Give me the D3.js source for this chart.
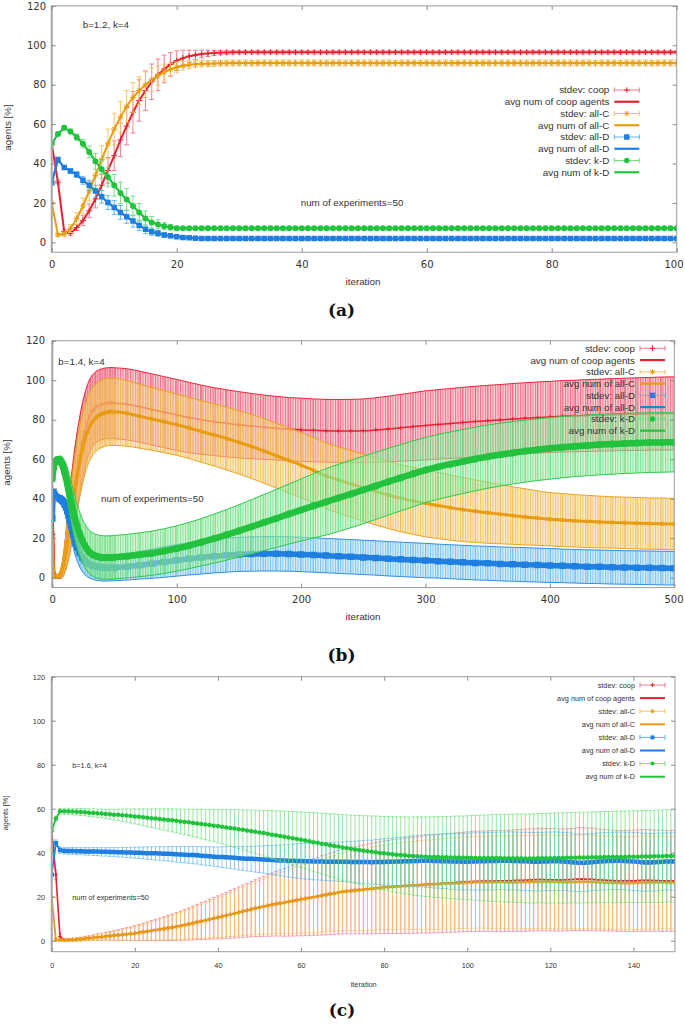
<!DOCTYPE html>
<html><head><meta charset="utf-8">
<script src="https://cdn.jsdelivr.net/npm/d3@7"></script>
<style>body{margin:0;background:#fff}svg{display:block}</style>
</head><body>
<svg id="chart" width="685" height="1027"></svg>
<script>
// ---------------- DATA ----------------
// Panel (a): b=1.2, k=4, iterations 0..100
const aIter = d3.range(0, 101);
const aCoop = [50,30.5,5.5,4.6,7.5,11,16,22,29,36.5,44,52,59,66,72,77,81.5,85,88,90.3,92.2,93.5,94.5,95.1,95.6,95.9,96.1,96.3,96.4,
 96.5,96.5,96.5,96.5,96.5,96.5,96.5,96.5,96.5,96.5,96.5,96.5,
 96.5,96.5,96.5,96.5,96.5,96.5,96.5,96.5,96.5,96.5,96.5,96.5,
 96.5,96.5,96.5,96.5,96.5,96.5,96.5,96.5,96.5,96.5,96.5,96.5,
 96.5,96.5,96.5,96.5,96.5,96.5,96.5,96.5,96.5,96.5,96.5,96.5,
 96.5,96.5,96.5,96.5,96.5,96.5,96.5,96.5,96.5,96.5,96.5,96.5,
 96.5,96.5,96.5,96.5,96.5,96.5,96.5,96.5,96.5,96.5,96.5,96.5];
const aCoopSd = [0,0.8,1,1,1.5,2.5,3.5,4.5,5.5,6.5,7.5,8.5,9.5,10.5,10.5,10,9,8,7,6,5,4,3,2.4,2,1.6,1.3,1.1,1,
 0.9,0.9,0.9,0.9,0.9,0.9,0.9,0.9,0.9,0.9,0.9,0.9,
 0.9,0.9,0.9,0.9,0.9,0.9,0.9,0.9,0.9,0.9,0.9,0.9,
 0.9,0.9,0.9,0.9,0.9,0.9,0.9,0.9,0.9,0.9,0.9,0.9,
 0.9,0.9,0.9,0.9,0.9,0.9,0.9,0.9,0.9,0.9,0.9,0.9,
 0.9,0.9,0.9,0.9,0.9,0.9,0.9,0.9,0.9,0.9,0.9,0.9,
 0.9,0.9,0.9,0.9,0.9,0.9,0.9,0.9,0.9,0.9,0.9,0.9];
const aAllC = [20,3.8,4.2,7,12,18.5,26,34,42,50,57.5,63.5,69,73.5,77,80,82.5,84.6,86.4,87.8,88.9,89.6,90.1,90.4,90.6,90.7,90.8,90.9,90.9,
 91,91,91,91,91,91,91,91,91,91,91,91,
 91,91,91,91,91,91,91,91,91,91,91,91,
 91,91,91,91,91,91,91,91,91,91,91,91,
 91,91,91,91,91,91,91,91,91,91,91,91,
 91,91,91,91,91,91,91,91,91,91,91,91,
 91,91,91,91,91,91,91,91,91,91,91,91];
const aAllCSd = [0,0.8,1,2,3,4,5,6,7,7.5,8,8,8,7.5,7,6.5,6,5,4,3.2,2.6,2.2,1.9,1.7,1.6,1.5,1.5,1.5,1.5,
 1.5,1.5,1.5,1.5,1.5,1.5,1.5,1.5,1.5,1.5,1.5,1.5,
 1.5,1.5,1.5,1.5,1.5,1.5,1.5,1.5,1.5,1.5,1.5,1.5,
 1.5,1.5,1.5,1.5,1.5,1.5,1.5,1.5,1.5,1.5,1.5,1.5,
 1.5,1.5,1.5,1.5,1.5,1.5,1.5,1.5,1.5,1.5,1.5,1.5,
 1.5,1.5,1.5,1.5,1.5,1.5,1.5,1.5,1.5,1.5,1.5,1.5,
 1.5,1.5,1.5,1.5,1.5,1.5,1.5,1.5,1.5,1.5,1.5,1.5];
const aAllD = [30.2,42,38,36.2,34.4,31.5,29,26,23.1,20.2,17.7,15.2,13,10.8,8.6,6.6,5.4,4.6,3.7,3.3,2.8,2.5,2.3,2.1,2,1.9,1.9,1.9,1.9,
 1.9,1.9,1.9,1.9,1.9,1.9,1.9,1.9,1.9,1.9,1.9,1.9,
 1.9,1.9,1.9,1.9,1.9,1.9,1.9,1.9,1.9,1.9,1.9,1.9,
 1.9,1.9,1.9,1.9,1.9,1.9,1.9,1.9,1.9,1.9,1.9,1.9,
 1.9,1.9,1.9,1.9,1.9,1.9,1.9,1.9,1.9,1.9,1.9,1.9,
 1.9,1.9,1.9,1.9,1.9,1.9,1.9,1.9,1.9,1.9,1.9,1.9,
 1.9,1.9,1.9,1.9,1.9,1.9,1.9,1.9,1.9,1.9,1.9,1.9];
const aAllDSd = [0,0.8,1,1.2,1.5,2,2.5,3,3.2,3.5,3.5,3.5,3.3,3,2.6,2.2,1.8,1.5,1.2,1,0.9,0.8,0.8,0.8,0.8,0.8,0.8,0.8,0.8,
 0.8,0.8,0.8,0.8,0.8,0.8,0.8,0.8,0.8,0.8,0.8,0.8,
 0.8,0.8,0.8,0.8,0.8,0.8,0.8,0.8,0.8,0.8,0.8,0.8,
 0.8,0.8,0.8,0.8,0.8,0.8,0.8,0.8,0.8,0.8,0.8,0.8,
 0.8,0.8,0.8,0.8,0.8,0.8,0.8,0.8,0.8,0.8,0.8,0.8,
 0.8,0.8,0.8,0.8,0.8,0.8,0.8,0.8,0.8,0.8,0.8,0.8,
 0.8,0.8,0.8,0.8,0.8,0.8,0.8,0.8,0.8,0.8,0.8,0.8];
const aKD = [50,55,58.2,56.3,53.4,50.1,45.9,41.1,37.1,33.2,29,25.1,21.8,18.5,15.2,12.1,10.1,9.1,8.2,7.6,7.2,7.1,7.1,7.1,7.1,7.1,7.1,7.1,7.1,
 7.1,7.1,7.1,7.1,7.1,7.1,7.1,7.1,7.1,7.1,7.1,7.1,
 7.1,7.1,7.1,7.1,7.1,7.1,7.1,7.1,7.1,7.1,7.1,7.1,
 7.1,7.1,7.1,7.1,7.1,7.1,7.1,7.1,7.1,7.1,7.1,7.1,
 7.1,7.1,7.1,7.1,7.1,7.1,7.1,7.1,7.1,7.1,7.1,7.1,
 7.1,7.1,7.1,7.1,7.1,7.1,7.1,7.1,7.1,7.1,7.1,7.1,
 7.1,7.1,7.1,7.1,7.1,7.1,7.1,7.1,7.1,7.1,7.1,7.1];
const aKDSd = [0,0.8,1,1.2,1.6,2.2,3,4,4.5,5,5.5,5.5,5.5,5,4.5,3.8,3,2.3,1.8,1.4,1.1,0.9,0.9,0.9,0.9,0.9,0.9,0.9,0.9,
 0.9,0.9,0.9,0.9,0.9,0.9,0.9,0.9,0.9,0.9,0.9,0.9,
 0.9,0.9,0.9,0.9,0.9,0.9,0.9,0.9,0.9,0.9,0.9,0.9,
 0.9,0.9,0.9,0.9,0.9,0.9,0.9,0.9,0.9,0.9,0.9,0.9,
 0.9,0.9,0.9,0.9,0.9,0.9,0.9,0.9,0.9,0.9,0.9,0.9,
 0.9,0.9,0.9,0.9,0.9,0.9,0.9,0.9,0.9,0.9,0.9,0.9,
 0.9,0.9,0.9,0.9,0.9,0.9,0.9,0.9,0.9,0.9,0.9,0.9];

// Panel (b): b=1.4, k=4, iterations 0..500 (sampled)
const bIter = [0,1,2,3,4,5,6,7,8,9,10,11,12,13,14,15,16,17,18,19,20,
 22,24,26,28,30,32,34,36,38,40,42,44,46,48,50,
 60,70,80,90,100,110,120,130,140,150,160,170,180,190,200,210,220,230,240,250,
 260,270,280,290,300,310,320,330,340,350,360,370,380,390,400,410,420,430,440,450,
 460,470,480,490,500];
const bCoop = [50,22,2,0.3,0.3,0.6,1.2,2.2,4,6.5,10,14,18.5,23.5,28.5,33,37.5,42,46.5,50.5,54.5,
 62,68.5,74,78.5,82,84.3,85.8,86.8,87.4,87.8,88.1,88.3,88.4,88.4,88.3,
 87.8,86.6,85.2,83.8,82.4,81.1,80,79,78.2,77.4,76.8,76.2,75.7,75.2,74.9,74.6,74.4,74.3,74.3,74.4,
 74.8,75.3,75.9,76.5,77.1,77.6,78.1,78.6,79.1,79.5,79.9,80.3,80.7,81.1,81.4,81.7,81.9,82.1,82.3,82.5,
 82.7,82.8,83,83.1,83.2];
const bCoopSd = [0,2,1,0.5,0.6,1,1.6,2.5,3.8,5.3,7,9,11,13,15,16.5,17.5,18.3,18.8,19.2,19.4,
 19.5,19.3,19,18.7,18.4,18.2,18,18,18,18,18,18,18,18,18,
 18,18,18,18,18,17.8,17.5,17.2,17,16.8,16.5,16.3,16.1,16,16,15.9,15.9,15.9,16,16.1,
 16.3,16.6,16.9,17.2,17.5,17.6,17.7,17.8,17.8,17.9,17.9,18,18,18,18,18.1,18.1,18.2,18.2,18.3,
 18.3,18.4,18.4,18.5,18.5];
const bAllC = [20,3,0.5,0.3,0.5,0.9,1.5,2.5,4,6.3,9.5,13,17,21.5,26,30.5,35,39.5,43.5,47.5,51.5,
 58.5,64.5,69.5,73.5,76.5,78.7,80.3,81.5,82.4,83,83.5,83.8,84,84,84,
 83.2,81.8,80.4,79,77.5,75.8,74,72.3,70.5,68.5,66.5,64.2,61.8,59.4,57,54.3,51.6,49.5,47.5,45.6,
 43.7,41.9,40.3,38.9,37.7,36.6,35.5,34.5,33.7,32.9,32.2,31.5,30.8,30.2,29.6,29.2,28.8,28.5,28.2,28,
 27.8,27.6,27.4,27.3,27.2];
const bAllCSd = [0,1.5,0.8,0.5,0.6,1,1.6,2.5,3.8,5.3,7,9,11,12.8,14.3,15.5,16.3,16.9,17.3,17.6,17.8,
 17.9,17.8,17.6,17.4,17.3,17.2,17.2,17.1,17.1,17,17,17,17,17,17,
 16.6,16.2,15.9,15.7,15.5,15.5,15.6,15.7,15.9,16,16.2,16.3,16.4,16.5,16.5,16.6,16.7,16.8,16.9,17,
 17,17,17,17,17,16.8,16.5,16.2,15.8,15.5,15,14.6,14.2,13.8,13.5,13.4,13.3,13.2,13.1,13,
 13,13,13,13,13];
const bAllD = [30,43.5,42,41,40.6,40.3,40,39.6,39,38.2,37,35.5,33.6,31.4,29,26.5,24,21.6,19.3,17.2,15.4,
 12.5,10.3,8.7,7.6,6.8,6.2,5.8,5.5,5.3,5.1,5,5,5,5,5.1,
 5.6,6.3,7.1,8,8.8,9.6,10.3,10.9,11.4,11.8,12,12.1,12.1,12,11.8,11.5,11.2,10.9,10.6,10.3,
 10,9.6,9.3,9,8.7,8.4,8.1,7.8,7.5,7.3,7,6.8,6.6,6.4,6.2,6,5.8,5.6,5.5,5.3,
 5.2,5.1,5,4.9,4.8];
const bAllDSd = [0,1.5,1.2,1,1,1.2,1.5,2,2.5,3,3.6,4.2,4.8,5.3,5.8,6.2,6.5,6.7,6.9,7,7,
 7,7,7,7,7,6.9,6.9,6.8,6.8,6.7,6.7,6.7,6.6,6.6,6.6,
 6.8,7,7.4,7.8,8,8.2,8.4,8.5,8.6,8.6,8.7,8.7,8.7,8.7,8.7,8.7,8.7,8.7,8.7,8.7,
 8.7,8.7,8.7,8.7,8.7,8.6,8.6,8.6,8.6,8.6,8.6,8.6,8.6,8.6,8.6,8.5,8.5,8.5,8.5,8.5,
 8.5,8.5,8.5,8.5,8.5];
const bKD = [50,55.5,58,59.3,59.8,59.8,59.5,58.5,57.2,55.5,53.2,50.8,48,45,42,39,36,33.2,30.6,28.2,26,
 22.2,19,16.4,14.4,12.9,11.9,11.2,10.8,10.5,10.3,10.2,10.2,10.2,10.3,10.4,
 10.9,11.6,12.4,13.5,14.8,16.3,18,19.8,21.7,23.7,25.8,27.9,30,32.2,34.3,36.4,38.4,40.4,42.4,44.4,
 46.5,48.6,50.6,52.6,54.5,56.1,57.5,58.8,60.1,61.3,62.3,63.2,64.1,64.8,65.5,66.1,66.6,67,67.4,67.7,
 68,68.2,68.4,68.5,68.6];
const bKDSd = [0,1.5,1.2,1,1.2,1.6,2.2,3,4,5,6,7,8,8.8,9.5,10,10.4,10.7,10.9,11,11,
 11,11,11,11,11,11,11,11,11,11,11,11,11,11,11,
 11,11.1,11.2,11.3,11.5,11.7,12,12.4,12.8,13.2,13.7,14.2,14.7,15.2,15.7,16.3,16.8,17,17.1,17.1,
 17,16.9,16.8,16.7,16.5,16.4,16.3,16.2,16.1,16,15.9,15.8,15.7,15.6,15.6,15.5,15.4,15.4,15.3,15.3,
 15.2,15.2,15.1,15.1,15];

// Panel (c): b=1.6, k=4, iterations 0..150
const cIter = d3.range(0, 151);
const cCoop = [50,30,1.8,0.4,0.4,0.5,0.6,0.8,1,1.2,
 1.4,1.6,1.8,2,2.2,2.4,2.6,2.8,3,3.2,
 3.4,3.7,4,4.3,4.6,4.9,5.2,5.5,5.8,6.1,
 6.4,6.8,7.2,7.6,8,8.5,8.9,9.3,9.8,10.2,
 10.6,11,11.5,12,12.4,12.9,13.4,13.8,14.3,14.8,
 15.2,15.6,16,16.4,16.8,17.1,17.4,17.8,18.1,18.5,
 18.8,19.2,19.5,19.9,20.2,20.6,20.9,21.3,21.6,22,
 22.3,22.5,22.7,22.9,23.1,23.3,23.5,23.7,23.9,24.1,
 24.3,24.4,24.6,24.7,24.8,25,25.1,25.2,25.3,25.5,
 25.6,25.7,25.8,25.9,26.1,26.2,26.3,26.4,26.6,26.7,
 26.8,26.9,27,27,27.1,27.1,27.1,27.2,27.2,27.2,
 27.2,27.3,27.4,27.4,27.5,27.6,27.7,27.8,27.8,27.7,
 27.7,27.7,27.6,27.6,27.7,27.8,27.9,28,28,27.9,
 27.9,27.7,27.6,27.5,27.4,27.3,27.2,27.2,27.2,27.2,
 27.2,27.3,27.4,27.4,27.4,27.3,27.3,27.2,27.2,27.2,
 27.2];
const cCoopSd = [0,2,1.5,0.5,0.5,0.6,0.7,0.8,1,1.1,
 1.3,1.5,1.6,1.8,2,2.2,2.4,2.6,2.9,3.1,
 3.4,3.6,3.9,4.2,4.5,4.8,5.1,5.4,5.7,6,
 6.3,6.6,7,7.3,7.7,8,8.4,8.7,9.1,9.4,
 9.8,10.1,10.5,10.8,11.2,11.5,11.9,12.2,12.6,12.9,
 13.3,13.6,14,14.3,14.7,15,15.4,15.7,16,16.3,
 16.6,16.9,17.2,17.4,17.7,18,18.2,18.5,18.7,19,
 19.2,19.4,19.6,19.8,20,20.2,20.4,20.6,20.7,20.9,
 21,21.1,21.3,21.4,21.5,21.6,21.7,21.8,21.9,22,
 22.1,22.2,22.2,22.3,22.4,22.4,22.5,22.5,22.6,22.6,
 22.7,22.7,22.8,22.8,22.8,22.9,22.9,22.9,23,23,
 23,23.1,23.1,23.1,23.2,23.2,23.2,23.3,23.3,23.3,
 23.3,23.3,23.2,23.2,23.2,23.2,23.3,23.4,23.4,23.3,
 23.3,23.2,23.1,23,23,22.9,22.9,22.9,23,23,
 23,23,23.1,23.1,23.1,23,23,23,22.9,22.9,
 22.9];
const cAllC = [20,0.5,0.3,0.2,0.3,0.4,0.5,0.7,0.9,1.1,
 1.3,1.5,1.7,1.9,2.1,2.3,2.5,2.7,2.9,3.1,
 3.3,3.6,3.9,4.2,4.5,4.8,5.1,5.4,5.7,6,
 6.3,6.7,7.1,7.5,7.9,8.4,8.8,9.2,9.7,10.1,
 10.5,10.9,11.4,11.9,12.3,12.8,13.3,13.7,14.2,14.7,
 15.1,15.5,15.9,16.3,16.7,17,17.3,17.7,18,18.4,
 18.7,19.1,19.4,19.8,20.1,20.5,20.8,21.2,21.5,21.9,
 22.2,22.4,22.6,22.8,23,23.2,23.4,23.6,23.8,24,
 24.2,24.3,24.5,24.6,24.7,24.9,25,25.1,25.2,25.3,
 25.4,25.5,25.6,25.7,25.8,25.9,26,26.1,26.2,26.3,
 26.4,26.5,26.6,26.6,26.6,26.6,26.6,26.6,26.6,26.6,
 26.5,26.5,26.6,26.6,26.7,26.7,26.8,26.8,26.8,26.8,
 26.7,26.7,26.6,26.6,26.6,26.7,26.7,26.8,26.8,26.8,
 26.7,26.6,26.5,26.4,26.4,26.3,26.3,26.3,26.2,26.2,
 26.2,26.3,26.4,26.5,26.5,26.5,26.5,26.5,26.4,26.4,
 26.4];
const cAllCSd = [0,0.8,0.5,0.4,0.5,0.6,0.7,0.8,0.9,1,
 1.2,1.3,1.5,1.7,1.8,2,2.2,2.4,2.6,2.8,
 3.1,3.3,3.6,3.8,4.1,4.4,4.7,5,5.2,5.5,
 5.8,6.1,6.4,6.7,7,7.4,7.7,8,8.3,8.6,
 9,9.3,9.6,9.9,10.3,10.6,10.9,11.2,11.6,11.9,
 12.2,12.5,12.8,13.2,13.5,13.8,14.1,14.4,14.7,15,
 15.3,15.5,15.8,16,16.3,16.5,16.8,17,17.2,17.4,
 17.6,17.8,18,18.2,18.4,18.6,18.7,18.9,19,19.2,
 19.3,19.4,19.5,19.6,19.7,19.8,19.9,20,20.1,20.2,
 20.3,20.3,20.4,20.5,20.5,20.6,20.6,20.7,20.7,20.8,
 20.8,20.8,20.9,20.9,20.9,21,21,21,21,21.1,
 21.1,21.1,21.1,21.2,21.2,21.2,21.2,21.2,21.3,21.3,
 21.3,21.3,21.2,21.2,21.2,21.2,21.3,21.3,21.3,21.3,
 21.2,21.2,21.1,21.1,21,21,21,21,21,21.1,
 21.1,21.1,21.2,21.2,21.2,21.1,21.1,21.1,21,21,
 21];
const cAllD = [30,44.3,41.2,40.9,40.8,40.8,40.7,40.7,40.6,40.6,
 40.5,40.5,40.4,40.4,40.3,40.3,40.2,40.2,40.1,40.1,
 40,40,39.9,39.8,39.8,39.7,39.6,39.5,39.5,39.4,
 39.3,39.2,39.1,39,38.9,38.8,38.6,38.5,38.4,38.2,
 38.1,38,37.9,37.8,37.7,37.5,37.4,37.3,37.2,37.1,
 37,36.9,36.8,36.7,36.6,36.5,36.4,36.3,36.3,36.2,
 36.2,36.1,36.1,36,36,36,35.9,35.9,35.9,35.9,
 35.9,35.9,35.8,35.8,35.8,35.8,35.8,35.7,35.8,35.8,
 35.8,35.9,35.9,36,36,36.1,36.1,36.2,36.2,36.3,
 36.3,36.3,36.2,36.2,36.1,36.1,36,36,36,35.9,
 35.9,36,36,36.1,36.1,36.2,36.2,36.2,36.3,36.3,
 36.3,36.2,36.2,36.1,36.1,36,35.9,35.9,36,36,
 36.1,36.1,36.1,36,35.9,35.7,35.5,35.4,35.4,35.5,
 35.7,35.9,36,36.1,36.2,36.2,36.3,36.3,36.2,36.1,
 36,35.9,35.7,35.6,35.6,35.7,35.8,35.9,36,36,
 36];
const cAllDSd = [0,1.5,1.5,1.5,1.5,1.6,1.6,1.6,1.7,1.7,
 1.8,1.8,1.9,1.9,2,2,2.1,2.2,2.3,2.4,
 2.5,2.6,2.7,2.8,2.9,3,3.1,3.2,3.3,3.4,
 3.5,3.6,3.7,3.8,3.9,4,4.1,4.2,4.3,4.4,
 4.5,4.7,4.8,5,5.1,5.3,5.4,5.6,5.7,5.9,
 6,6.2,6.4,6.6,6.8,7,7.2,7.4,7.6,7.8,
 8,8.1,8.2,8.3,8.4,8.5,8.6,8.7,8.8,8.9,
 9,9.1,9.3,9.4,9.6,9.7,9.9,10,10.2,10.3,
 10.5,10.6,10.8,10.9,11.1,11.2,11.4,11.5,11.7,11.8,
 12,12.1,12.2,12.3,12.4,12.5,12.6,12.7,12.8,12.9,
 12.9,13,13,13,13,13.1,13.1,13.1,13.1,13.1,
 13.2,13.2,13.2,13.2,13.2,13.2,13.3,13.3,13.3,13.3,
 13.3,13.3,13.3,13.2,13.2,13.2,13.1,13.1,13.1,13.1,
 13,13,13,13,13,13,13.1,13.1,13.1,13.2,
 13.2,13.2,13.2,13.2,13.1,13.1,13.1,13,13,13,
 13];
const cKD = [50,55.5,58.8,58.8,58.8,58.7,58.6,58.5,58.4,58.2,
 58.1,57.9,57.8,57.6,57.5,57.3,57.2,57,56.9,56.7,
 56.5,56.3,56.1,55.9,55.7,55.5,55.3,55.1,54.9,54.7,
 54.5,54.2,54,53.8,53.5,53.3,53.1,52.8,52.6,52.3,
 52.1,51.8,51.5,51.2,51,50.7,50.4,50.1,49.8,49.5,
 49.2,48.9,48.6,48.2,47.9,47.6,47.3,46.9,46.6,46.2,
 45.9,45.5,45.2,44.8,44.5,44.1,43.8,43.4,43.1,42.8,
 42.4,42.1,41.8,41.5,41.2,40.9,40.7,40.4,40.2,39.9,
 39.7,39.5,39.3,39.1,38.9,38.8,38.6,38.5,38.4,38.3,
 38.2,38.1,38,38,37.9,37.9,37.8,37.8,37.8,37.7,
 37.7,37.7,37.6,37.6,37.6,37.6,37.6,37.6,37.6,37.5,
 37.5,37.5,37.5,37.5,37.4,37.4,37.4,37.5,37.5,37.5,
 37.5,37.6,37.6,37.6,37.7,37.7,37.7,37.8,37.8,37.8,
 37.9,37.9,37.9,38,38,38,38.1,38.1,38.1,38.2,
 38.2,38.2,38.3,38.3,38.3,38.4,38.4,38.4,38.5,38.5,
 38.5];
const cKDSd = [0,1.2,1.3,1.4,1.4,1.5,1.5,1.6,1.6,1.7,
 1.8,1.9,2,2.1,2.3,2.4,2.6,2.8,3,3.2,
 3.4,3.6,3.8,4,4.2,4.4,4.6,4.8,5,5.2,
 5.4,5.6,5.8,6,6.2,6.4,6.7,6.9,7.1,7.3,
 7.6,7.8,8.1,8.3,8.6,8.8,9.1,9.3,9.6,9.8,
 10.1,10.4,10.6,10.9,11.1,11.4,11.6,11.9,12.1,12.4,
 12.6,12.9,13.1,13.4,13.6,13.8,14.1,14.3,14.5,14.7,
 14.9,15.1,15.3,15.5,15.7,15.9,16.1,16.3,16.5,16.6,
 16.8,16.9,17.1,17.2,17.4,17.5,17.6,17.8,17.9,18,
 18.1,18.2,18.3,18.4,18.5,18.6,18.7,18.8,18.9,19,
 19.1,19.2,19.3,19.4,19.5,19.6,19.7,19.8,19.9,19.9,
 20,20,20.1,20.1,20.2,20.2,20.3,20.3,20.3,20.4,
 20.4,20.4,20.5,20.5,20.5,20.5,20.6,20.6,20.6,20.6,
 20.7,20.7,20.7,20.7,20.7,20.8,20.8,20.8,20.8,20.8,
 20.9,20.9,20.9,20.9,20.9,21,21,21,21,21,
 21];

// Axis ticks and labels
const yTicks = [0, 20, 40, 60, 80, 100, 120];
const aXTicks = [0, 20, 40, 60, 80, 100];
const bXTicks = [0, 100, 200, 300, 400, 500];
const cXTicks = [0, 20, 40, 60, 80, 100, 120, 140];
const legendLabels = ["stdev: coop", "avg num of coop agents", "stdev: all-C", "avg num of all-C",
  "stdev: all-D", "avg num of all-D", "stdev: k-D", "avg num of k-D"];
const seriesKeys = ["coop", "allC", "allD", "kD"];

// ---------------- STYLE ----------------
const COL = {
  coop: {main:'#e8202f', sd:'#f27a8e', band:'#f7a3b1', stripe:'#ea4d69', edge:'#e8243c', mk:'plus'},
  allC: {main:'#e89c10', sd:'#f4c35e', band:'#fadc9c', stripe:'#f0b444', edge:'#e8a41e', mk:'star'},
  allD: {main:'#1f7fe0', sd:'#5fb5f0', band:'#b3e0f8', stripe:'#5cb2ec', edge:'#2e8fe2', mk:'square'},
  kD:   {main:'#22c23e', sd:'#72e07e', band:'#b4f2bb', stripe:'#5fdb72', edge:'#2fc84c', mk:'circle'}
};
const TICKF = "'DejaVu Sans', Verdana, sans-serif";
const TXTF = "'Liberation Sans', Arial, sans-serif";
const PAGE_W = 685;

const svg = d3.select('#chart');
const defs = svg.append('defs');
seriesKeys.forEach(k => {
  const p = defs.append('pattern').attr('id', 'pat-' + k).attr('patternUnits', 'userSpaceOnUse')
    .attr('width', 2.5).attr('height', 10);
  p.append('rect').attr('width', 2.5).attr('height', 10).attr('fill', COL[k].band).attr('opacity', 0.5);
  p.append('rect').attr('width', 1).attr('height', 10).attr('fill', COL[k].stripe).attr('opacity', 0.75);
});

function markerPath(type, cx, cy, s) {
  const h = s / 2, d = h * 0.72;
  if (type === 'plus') return `M${cx-h},${cy}H${cx+h}M${cx},${cy-h}V${cy+h}`;
  if (type === 'star') return `M${cx-h},${cy}H${cx+h}M${cx},${cy-h}V${cy+h}M${cx-d},${cy-d}L${cx+d},${cy+d}M${cx-d},${cy+d}L${cx+d},${cy-d}`;
  if (type === 'square') return `M${cx-h},${cy-h}h${s}v${s}h${-s}Z`;
  return `M${cx-h},${cy}a${h},${h} 0 1,0 ${s},0a${h},${h} 0 1,0 ${-s},0Z`;
}
function drawMarkers(g, pts, type, size, color) {
  const filled = (type === 'square' || type === 'circle');
  g.append('g').selectAll('path').data(pts).join('path')
    .attr('d', p => markerPath(type, p.x, p.m, size))
    .attr('fill', filled ? color : 'none')
    .attr('stroke', color).attr('stroke-width', filled ? 0 : 1);
}

function drawPanel(cfg) {
  const g = svg.append('g');
  const x = d3.scaleLinear().domain(cfg.xDomain).range([cfg.left, cfg.right]);
  const y = d3.scaleLinear().domain([-5, 120]).range([cfg.bottom, cfg.top]);
  defs.append('clipPath').attr('id', 'clip-' + cfg.id).append('rect')
    .attr('x', cfg.left).attr('y', cfg.top).attr('width', cfg.right - cfg.left).attr('height', cfg.bottom - cfg.top);
  const plot = g.append('g').attr('clip-path', `url(#clip-${cfg.id})`);

  cfg.series.forEach(s => {
    const c = COL[s.key];
    const pts = s.iters.map((it, i) => ({x: x(it), m: y(s.mean[i]), lo: y(s.mean[i] - s.sd[i]), hi: y(s.mean[i] + s.sd[i])}));
    if (cfg.mode === 'band') {
      const area = d3.area().x((d, i) => x(s.iters[i])).y0((d, i) => y(s.mean[i] - s.sd[i]))
        .y1((d, i) => y(s.mean[i] + s.sd[i])).curve(d3.curveMonotoneX);
      plot.append('path').datum(s.mean).attr('d', area).attr('fill', `url(#pat-${s.key})`);
      plot.append('g').selectAll('line').data(pts).join('line')
        .attr('x1', p => p.x).attr('x2', p => p.x).attr('y1', p => p.lo).attr('y2', p => p.hi)
        .attr('stroke', c.stripe).attr('stroke-width', 1).attr('opacity', 0.6);
      const lineUp = d3.line().x((d, i) => x(s.iters[i])).y((d, i) => y(s.mean[i] + s.sd[i])).curve(d3.curveMonotoneX);
      const lineLo = d3.line().x((d, i) => x(s.iters[i])).y((d, i) => y(s.mean[i] - s.sd[i])).curve(d3.curveMonotoneX);
      plot.append('path').datum(s.mean).attr('d', lineUp).attr('fill', 'none').attr('stroke', c.edge).attr('stroke-width', 1);
      plot.append('path').datum(s.mean).attr('d', lineLo).attr('fill', 'none').attr('stroke', c.edge).attr('stroke-width', 1);
      drawMarkers(plot, pts, c.mk, cfg.mkSize[s.key], c.main);
      const ml = d3.line().x((d, i) => x(s.iters[i])).y(d => y(d)).curve(d3.curveMonotoneX);
      plot.append('path').datum(s.mean).attr('d', ml).attr('fill', 'none').attr('stroke', c.main)
        .attr('stroke-width', cfg.lineW[s.key]).attr('stroke-linejoin', 'round');
    } else {
      const cp = cfg.cap;
      plot.append('g').selectAll('path').data(pts).join('path')
        .attr('d', p => `M${p.x},${p.lo}V${p.hi}M${p.x-cp},${p.lo}H${p.x+cp}M${p.x-cp},${p.hi}H${p.x+cp}`)
        .attr('stroke', c.sd).attr('stroke-width', 1).attr('fill', 'none').attr('opacity', cfg.barOp);
      drawMarkers(plot, pts, c.mk, cfg.mkSize[s.key], c.main);
      const ml = d3.line().x((d, i) => x(s.iters[i])).y(d => y(d));
      plot.append('path').datum(s.mean).attr('d', ml).attr('fill', 'none').attr('stroke', c.main)
        .attr('stroke-width', cfg.lineW[s.key]).attr('stroke-linejoin', 'round');
    }
  });

  // frame
  g.append('rect').attr('x', cfg.left).attr('y', cfg.top).attr('width', cfg.right - cfg.left)
    .attr('height', cfg.bottom - cfg.top).attr('fill', 'none').attr('stroke', '#9c9c9c').attr('stroke-width', 1);
  g.append('line').attr('x1', cfg.left).attr('x2', cfg.left).attr('y1', cfg.top).attr('y2', cfg.bottom)
    .attr('stroke', '#a8a8a8').attr('stroke-width', 2);

  // axes
  const styleAxis = (sel, fs) => {
    sel.select('.domain').remove();
    sel.selectAll('.tick line').attr('stroke', '#8a8a8a');
    sel.selectAll('.tick text').attr('fill', '#333').attr('font-family', cfg.tickFont).attr('font-size', fs);
  };
  const gb = g.append('g').attr('transform', `translate(0,${cfg.bottom})`)
    .call(d3.axisBottom(x).tickValues(cfg.xTicks).tickSize(-cfg.tick).tickPadding(cfg.xPad).tickFormat(d3.format('d')));
  styleAxis(gb, cfg.tickFs);
  // keep the last tick label inside the page
  gb.selectAll('.tick text').each(function(d) {
    const w = this.getComputedTextLength();
    const over = x(d) + w / 2 - (PAGE_W - 2);
    if (over > 0) d3.select(this).attr('dx', -over);
  });
  const gt = g.append('g').attr('transform', `translate(0,${cfg.top})`)
    .call(d3.axisTop(x).tickValues(cfg.xTicks).tickSize(-cfg.tick).tickFormat(''));
  styleAxis(gt, cfg.tickFs);
  const gl = g.append('g').attr('transform', `translate(${cfg.left},0)`)
    .call(d3.axisLeft(y).tickValues(yTicks).tickSize(-cfg.tick).tickPadding(cfg.yPad).tickFormat(d3.format('d')));
  styleAxis(gl, cfg.tickFs);
  const gr = g.append('g').attr('transform', `translate(${cfg.right},0)`)
    .call(d3.axisRight(y).tickValues(yTicks).tickSize(-cfg.tick).tickFormat(''));
  styleAxis(gr, cfg.tickFs);

  // labels
  const txt = (t, xx, yy, anchor, fs) => g.append('text').attr('x', xx).attr('y', yy).attr('dy', '0.35em')
    .attr('text-anchor', anchor).attr('font-family', TXTF).attr('font-size', fs).attr('fill', '#333').text(t);
  txt('iteration', cfg.xLabel[0], cfg.xLabel[1], 'middle', cfg.txtFs);
  g.append('text').attr('transform', `translate(${cfg.yLabel[0]},${cfg.yLabel[1]}) rotate(-90)`).attr('dy', '0.35em')
    .attr('text-anchor', 'middle').attr('font-family', TXTF).attr('font-size', cfg.txtFs).attr('fill', '#333').text('agents [%]');
  txt(cfg.param, cfg.paramPos[0], cfg.paramPos[1], 'start', cfg.txtFs);
  txt('num of experiments=50', cfg.expPos[0], cfg.expPos[1], 'start', cfg.txtFs);

  // legend
  legendLabels.forEach((lab, i) => {
    const k = seriesKeys[Math.floor(i / 2)], c = COL[k];
    const cy = cfg.legY0 + i * cfg.legDy;
    txt(lab, cfg.legTextR, cy, 'end', cfg.txtFs);
    const [sx1, sx2] = cfg.legSample;
    if (i % 2 === 0) {
      g.append('path').attr('d', `M${sx1},${cy}H${sx2}M${sx1},${cy-2.5}V${cy+2.5}M${sx2},${cy-2.5}V${cy+2.5}`)
        .attr('stroke', c.sd).attr('stroke-width', 1).attr('fill', 'none');
      const filled = (c.mk === 'square' || c.mk === 'circle');
      g.append('path').attr('d', markerPath(c.mk, (sx1 + sx2) / 2, cy, cfg.legMk))
        .attr('fill', filled ? c.main : 'none').attr('stroke', c.main).attr('stroke-width', filled ? 0 : 1);
    } else {
      g.append('line').attr('x1', sx1).attr('x2', sx2).attr('y1', cy).attr('y2', cy)
        .attr('stroke', c.main).attr('stroke-width', cfg.legLineW);
    }
  });

  // caption
  g.append('text').attr('x', cfg.caption[0]).attr('y', cfg.caption[1]).attr('text-anchor', 'middle')
    .attr('font-family', "'DejaVu Serif', serif").attr('font-weight', 'bold').attr('font-size', 17)
    .attr('fill', '#111').text(cfg.caption[2]);
}

drawPanel({
  id: 'a', left: 51.7, right: 676.7, top: 5.9, bottom: 252.2, xDomain: [0, 100], xTicks: aXTicks,
  mode: 'bars', cap: 2.5, barOp: 0.95,
  lineW: {coop: 2, allC: 2, allD: 2.2, kD: 2.2}, mkSize: {coop: 6, allC: 6, allD: 5.5, kD: 6},
  tick: 4, xPad: 8.3, yPad: 5.7, tickFont: TICKF, tickFs: 10, txtFs: 9.8,
  xLabel: [363, 282], yLabel: [7.5, 127.5], param: 'b=1.2, k=4', paramPos: [82.7, 25], expPos: [300.7, 202.5],
  legY0: 90, legDy: 11.75, legTextR: 609.3, legSample: [614.3, 639.3], legMk: 5.5, legLineW: 2.2,
  caption: [341.5, 316, '(a)'],
  series: [
    {key: 'coop', iters: aIter, mean: aCoop, sd: aCoopSd},
    {key: 'allC', iters: aIter, mean: aAllC, sd: aAllCSd},
    {key: 'allD', iters: aIter, mean: aAllD, sd: aAllDSd},
    {key: 'kD', iters: aIter, mean: aKD, sd: aKDSd}]
});

drawPanel({
  id: 'b', left: 52.3, right: 674.3, top: 340.7, bottom: 587.6, xDomain: [0, 500], xTicks: bXTicks,
  mode: 'band',
  lineW: {coop: 1.5, allC: 3, allD: 5.5, kD: 6.5}, mkSize: {coop: 4, allC: 4.5, allD: 6.5, kD: 7},
  tick: 4, xPad: 8.2, yPad: 7.3, tickFont: TICKF, tickFs: 10, txtFs: 9.8,
  xLabel: [363, 616.7], yLabel: [7, 462.5], param: 'b=1.4, k=4', paramPos: [58.3, 361.7], expPos: [101, 499],
  legY0: 348.3, legDy: 11.77, legTextR: 635, legSample: [640, 665], legMk: 5.5, legLineW: 2.2,
  caption: [341.5, 660.5, '(b)'],
  series: [
    {key: 'coop', iters: bIter, mean: bCoop, sd: bCoopSd},
    {key: 'allC', iters: bIter, mean: bAllC, sd: bAllCSd},
    {key: 'allD', iters: bIter, mean: bAllD, sd: bAllDSd},
    {key: 'kD', iters: bIter, mean: bKD, sd: bKDSd}]
});

drawPanel({
  id: 'c', left: 51.7, right: 675, top: 676.7, bottom: 951.7, xDomain: [0, 150], xTicks: cXTicks,
  mode: 'bars', cap: 1.8, barOp: 0.75,
  lineW: {coop: 1.6, allC: 1.8, allD: 1.8, kD: 1.8}, mkSize: {coop: 4, allC: 4, allD: 4.5, kD: 4.5},
  tick: 4, xPad: 10.7, yPad: 6.7, tickFont: TXTF, tickFs: 7.3, txtFs: 7.3,
  xLabel: [363.7, 984.3], yLabel: [5.5, 813], param: 'b=1.6, k=4', paramPos: [72.3, 765.7], expPos: [72.3, 897],
  legY0: 685, legDy: 13.1, legTextR: 635, legSample: [640, 665], legMk: 4, legLineW: 2,
  caption: [342, 1015.5, '(c)'],
  series: [
    {key: 'coop', iters: cIter, mean: cCoop, sd: cCoopSd},
    {key: 'allC', iters: cIter, mean: cAllC, sd: cAllCSd},
    {key: 'allD', iters: cIter, mean: cAllD, sd: cAllDSd},
    {key: 'kD', iters: cIter, mean: cKD, sd: cKDSd}]
});
</script>
</body></html>
